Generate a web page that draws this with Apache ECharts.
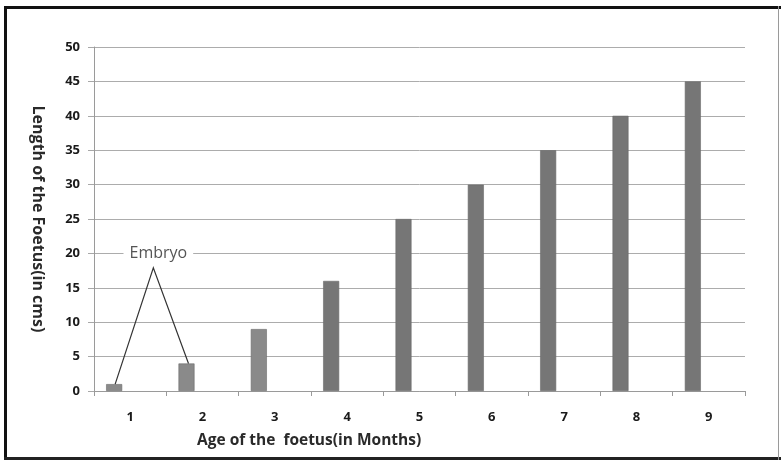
<!DOCTYPE html>
<html>
<head>
<meta charset="utf-8">
<script src="https://cdn.jsdelivr.net/npm/echarts@6/dist/echarts.min.js"></script>
<style>
  html, body { margin: 0; padding: 0; background: #fff; }
  #chart { width: 781px; height: 460px; }
</style>
</head>
<body>
<div id="chart"></div>
<script>
// Foetal length by month of pregnancy
const months = ['1', '2', '3', '4', '5', '6', '7', '8', '9'];
const lengthCm = [1, 4, 9, 16, 25, 30, 35, 40, 45];
const yMin = 0;
const yMax = 50;
const yStep = 5;
const embryoLabel = 'Embryo';
const embryoMonths = [0, 1];      // indices of the bars the callout points to
const xTitle = 'Age of the  foetus(in Months)';
const yTitle = 'Length of the Foetus(in cms)';

const FONT = '"Open Sans", "DejaVu Sans", sans-serif';
const chart = echarts.init(document.getElementById('chart'), null, { renderer: 'canvas' });

// Two blank series share each slot so the filled bar sits left of the category centre
const spacer = months.map(() => null);

const option = {
  animation: false,
  backgroundColor: '#ffffff',
  grid: { left: 94, right: 36, top: 47, bottom: 69, containLabel: false },
  xAxis: {
    type: 'category',
    data: months,
    boundaryGap: true,
    axisLine: { show: true, lineStyle: { color: '#9a9a9a', width: 1 } },
    axisTick: { show: true, alignWithLabel: false, length: 5, lineStyle: { color: '#9a9a9a' } },
    axisLabel: { color: '#1a1a1a', fontSize: 13, fontWeight: 'bold', fontFamily: FONT, margin: 20 },
    splitLine: { show: false }
  },
  yAxis: {
    type: 'value',
    min: yMin,
    max: yMax,
    interval: yStep,
    name: yTitle,
    nameLocation: 'middle',
    nameGap: 48,
    nameRotate: -90,
    nameTextStyle: { color: '#2a2a2a', fontSize: 16, fontWeight: 'bold', fontFamily: FONT },
    axisLine: { show: true, lineStyle: { color: '#9a9a9a', width: 1 } },
    axisTick: { show: true, length: 6, lineStyle: { color: '#a8a8a8' } },
    axisLabel: { color: '#1a1a1a', fontSize: 13, fontWeight: 'bold', fontFamily: FONT, margin: 14 },
    splitLine: { show: true, lineStyle: { color: '#acacac', width: 1 } }
  },
  series: [
    {
      type: 'bar',
      data: lengthCm,
      barWidth: 16,
      barGap: '0%',
      itemStyle: {
        color: (p) => (p.dataIndex < 3 ? '#8a8a8a' : '#767676'),
        borderColor: '#6a6a6a',
        borderWidth: 0.6
      },
      z: 3
    },
    { type: 'bar', data: spacer, barWidth: 16, barGap: '0%', silent: true },
    { type: 'bar', data: spacer, barWidth: 16, barGap: '0%', silent: true }
  ],
  graphic: [
    // frame round the chart
    { id: 'frameL', type: 'rect', shape: { x: 4, y: 6, width: 3, height: 454 }, style: { fill: '#111' }, silent: true },
    { id: 'frameT', type: 'rect', shape: { x: 4, y: 6, width: 777, height: 3 }, style: { fill: '#111' }, silent: true },
    { id: 'frameB', type: 'rect', shape: { x: 4, y: 457, width: 777, height: 3 }, style: { fill: '#222' }, silent: true },
    { id: 'frameR', type: 'rect', shape: { x: 778, y: 6, width: 1, height: 454 }, style: { fill: '#9a9a9a' }, silent: true },
    {
      id: 'xTitle', type: 'text', left: 197, top: 433, silent: true,
      style: { text: xTitle, fill: '#2a2a2a', font: 'bold 15.5px ' + FONT }
    }
  ]
};

chart.setOption(option);

// Callout: label above the first two bars with leader lines to their tops
(function drawCallout() {
  const data = chart.getModel().getSeriesByIndex(0).getData();
  const tops = embryoMonths.map((i) => {
    const l = data.getItemLayout(i);
    return [l.x + l.width / 2, Math.min(l.y, l.y + l.height)];
  });
  const apexX = (tops[0][0] + tops[1][0]) / 2 + 3;
  const apexY = chart.convertToPixel({ yAxisIndex: 0 }, 17.9);
  const labelY = chart.convertToPixel({ yAxisIndex: 0 }, 20);
  chart.setOption({
    graphic: [
      {
        id: 'calloutLines', type: 'polyline', silent: true, z: 10,
        shape: { points: [[tops[0][0] + 1, tops[0][1]], [apexX, apexY], [tops[1][0] + 2, tops[1][1]]] },
        style: { stroke: '#333', lineWidth: 1.2, fill: null }
      },
      {
        id: 'calloutText', type: 'text', silent: true, z: 10,
        x: apexX + 5, y: labelY,
        style: {
          text: embryoLabel, fill: '#555', font: '16px ' + FONT,
          align: 'center', verticalAlign: 'middle',
          backgroundColor: '#fff', padding: [1, 6]
        }
      }
    ]
  });
})();
</script>
</body>
</html>
